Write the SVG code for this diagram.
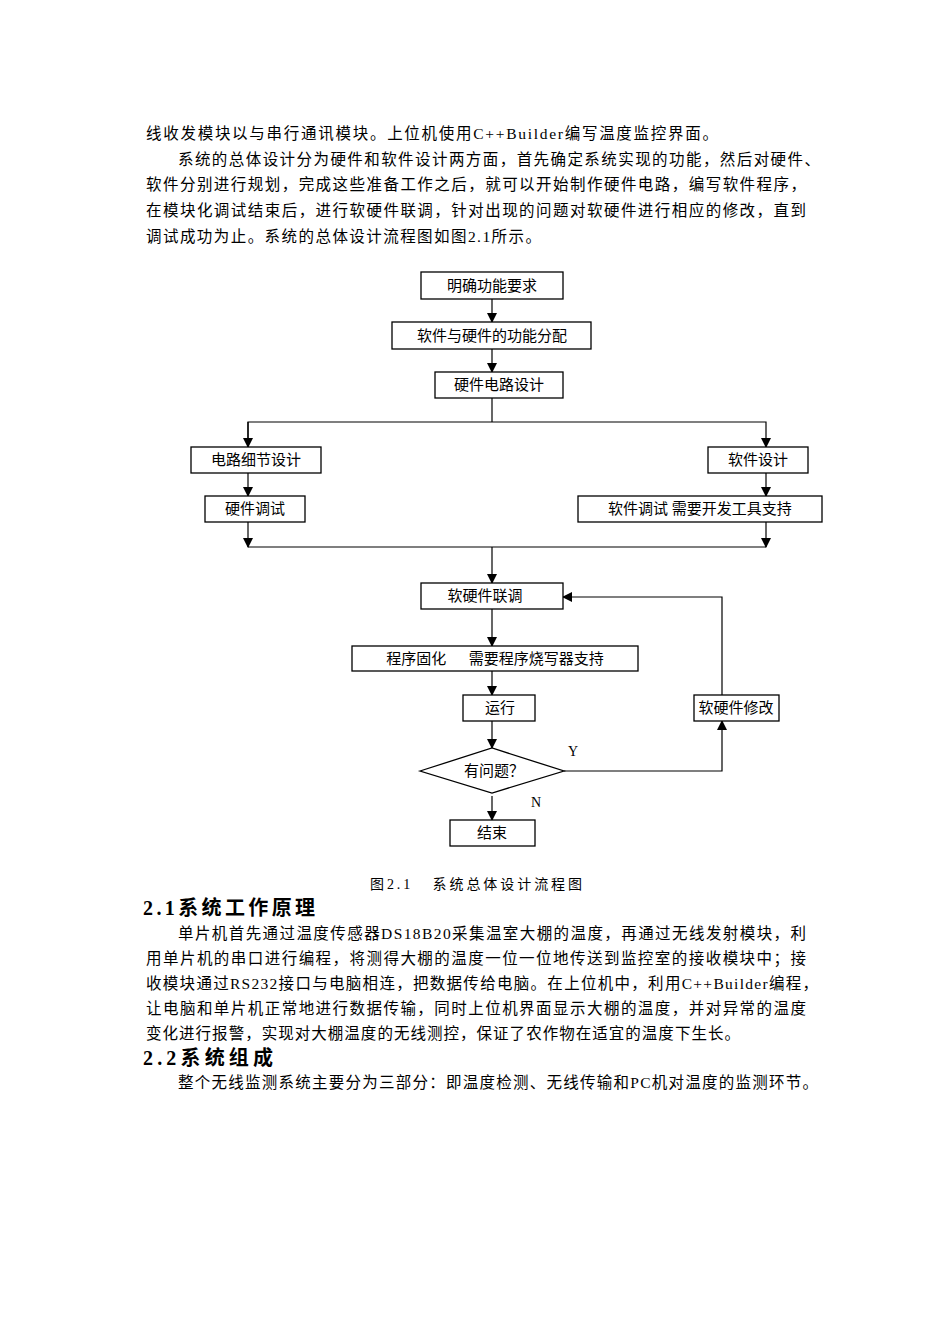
<svg xmlns="http://www.w3.org/2000/svg" width="950" height="1344" viewBox="0 0 950 1344">
<style>
.t{font-family:"Liberation Serif","Noto Sans CJK SC",serif;font-size:15.5px;fill:#000}
.n{font-family:"Liberation Serif","Noto Sans CJK SC",serif;font-size:15px;fill:#000;text-anchor:middle}
.h{font-family:"Liberation Serif","Noto Sans CJK SC",serif;font-size:20px;font-weight:bold;fill:#000}
.b{fill:#fff;stroke:#000;stroke-width:1.3}
.c path{fill:none;stroke:#000;stroke-width:1.2}
</style>
<defs><marker id="a" markerWidth="10" markerHeight="10" refX="9" refY="5" orient="auto" markerUnits="userSpaceOnUse"><path d="M0,0 L10,5 L0,10 z" fill="#000"/></marker></defs>
<rect width="950" height="1344" style="fill:#fff;stroke:none"/>
<text class="t" x="146" y="139" textLength="572" lengthAdjust="spacing">线收发模块以与串行通讯模块。上位机使用C++Builder编写温度监控界面。</text>
<text class="t" x="178" y="165" textLength="642" lengthAdjust="spacing">系统的总体设计分为硬件和软件设计两方面，首先确定系统实现的功能，然后对硬件、</text>
<text class="t" x="146" y="190" textLength="660" lengthAdjust="spacing">软件分别进行规划，完成这些准备工作之后，就可以开始制作硬件电路，编写软件程序，</text>
<text class="t" x="146" y="216" textLength="660" lengthAdjust="spacing">在模块化调试结束后，进行软硬件联调，针对出现的问题对软硬件进行相应的修改，直到</text>
<text class="t" x="146" y="242" textLength="395" lengthAdjust="spacing">调试成功为止。系统的总体设计流程图如图2.1所示。</text>
<g class="c">
<path d="M492,299 V322" marker-end="url(#a)"/>
<path d="M492,349 V372" marker-end="url(#a)"/>
<path d="M492,398 V422"/>
<path d="M248,447 V422 H766 V447" marker-end="url(#a)"/>
<path d="M248,422 V447" marker-end="url(#a)"/>
<path d="M248,473 V496" marker-end="url(#a)"/>
<path d="M766,473 V496" marker-end="url(#a)"/>
<path d="M248,522 V547" marker-end="url(#a)"/>
<path d="M766,522 V547" marker-end="url(#a)"/>
<path d="M248,547 H766"/>
<path d="M492,547 V583" marker-end="url(#a)"/>
<path d="M492,609 V646" marker-end="url(#a)"/>
<path d="M492,671 V695" marker-end="url(#a)"/>
<path d="M492,721 V748" marker-end="url(#a)"/>
<path d="M492,796 V820" marker-end="url(#a)"/>
<path d="M564,771 H722 V721" marker-end="url(#a)"/>
<path d="M722,695 V597 H563" marker-end="url(#a)"/>
</g>
<g id="n1"><rect class="b" x="421" y="272" width="142" height="27"/><text class="n" x="492" y="291">明确功能要求</text></g>
<g id="n2"><rect class="b" x="392" y="322" width="199" height="27"/><text class="n" x="492" y="341">软件与硬件的功能分配</text></g>
<g id="n3"><rect class="b" x="435" y="372" width="128" height="26"/><text class="n" x="499" y="390">硬件电路设计</text></g>
<g id="n4"><rect class="b" x="191" y="447" width="130" height="26"/><text class="n" x="256" y="465">电路细节设计</text></g>
<g id="n5"><rect class="b" x="708" y="447" width="100" height="26"/><text class="n" x="758" y="465">软件设计</text></g>
<g id="n6"><rect class="b" x="205" y="496" width="100" height="26"/><text class="n" x="255" y="514">硬件调试</text></g>
<g id="n7"><rect class="b" x="578" y="496" width="244" height="26"/><text class="n" x="700" y="514">软件调试 需要开发工具支持</text></g>
<g id="n8"><rect class="b" x="421" y="583" width="142" height="26"/><text class="n" x="485" y="601">软硬件联调</text></g>
<g id="n9"><rect class="b" x="352" y="646" width="286" height="25"/><text class="n" x="495" y="664" xml:space="preserve">程序固化      需要程序烧写器支持</text></g>
<g id="n10"><rect class="b" x="463" y="695" width="72" height="26"/><text class="n" x="500" y="713">运行</text></g>
<g id="n11"><polygon class="b" points="420,771 492,748 564,771 492,793"/><text class="n" x="494" y="776">有问题？</text></g>
<g id="n12"><rect class="b" x="450" y="820" width="85" height="26"/><text class="n" x="492" y="838">结束</text></g>
<g id="n13"><rect class="b" x="694" y="695" width="85" height="26"/><text class="n" x="736" y="713">软硬件修改</text></g>
<text class="n" x="573" y="756" style="font-size:14px">Y</text>
<text class="n" x="536" y="807" style="font-size:14px">N</text>
<text class="t" x="370" y="889" style="font-size:14px" textLength="212" lengthAdjust="spacing" xml:space="preserve">图2.1   系统总体设计流程图</text>
<text class="h" x="143" y="915" textLength="172" lengthAdjust="spacing">2.1系统工作原理</text>
<text class="t" x="178" y="939" textLength="628" lengthAdjust="spacing">单片机首先通过温度传感器DS18B20采集温室大棚的温度，再通过无线发射模块，利</text>
<text class="t" x="146" y="964" textLength="660" lengthAdjust="spacing">用单片机的串口进行编程，将测得大棚的温度一位一位地传送到监控室的接收模块中；接</text>
<text class="t" x="146" y="989" textLength="672" lengthAdjust="spacing">收模块通过RS232接口与电脑相连，把数据传给电脑。在上位机中，利用C++Builder编程，</text>
<text class="t" x="146" y="1014" textLength="660" lengthAdjust="spacing">让电脑和单片机正常地进行数据传输，同时上位机界面显示大棚的温度，并对异常的温度</text>
<text class="t" x="146" y="1039" textLength="594" lengthAdjust="spacing">变化进行报警，实现对大棚温度的无线测控，保证了农作物在适宜的温度下生长。</text>
<text class="h" x="143" y="1065" textLength="130" lengthAdjust="spacing">2.2系统组成</text>
<text class="t" x="178" y="1088" textLength="640" lengthAdjust="spacing">整个无线监测系统主要分为三部分：即温度检测、无线传输和PC机对温度的监测环节。</text>
</svg>
